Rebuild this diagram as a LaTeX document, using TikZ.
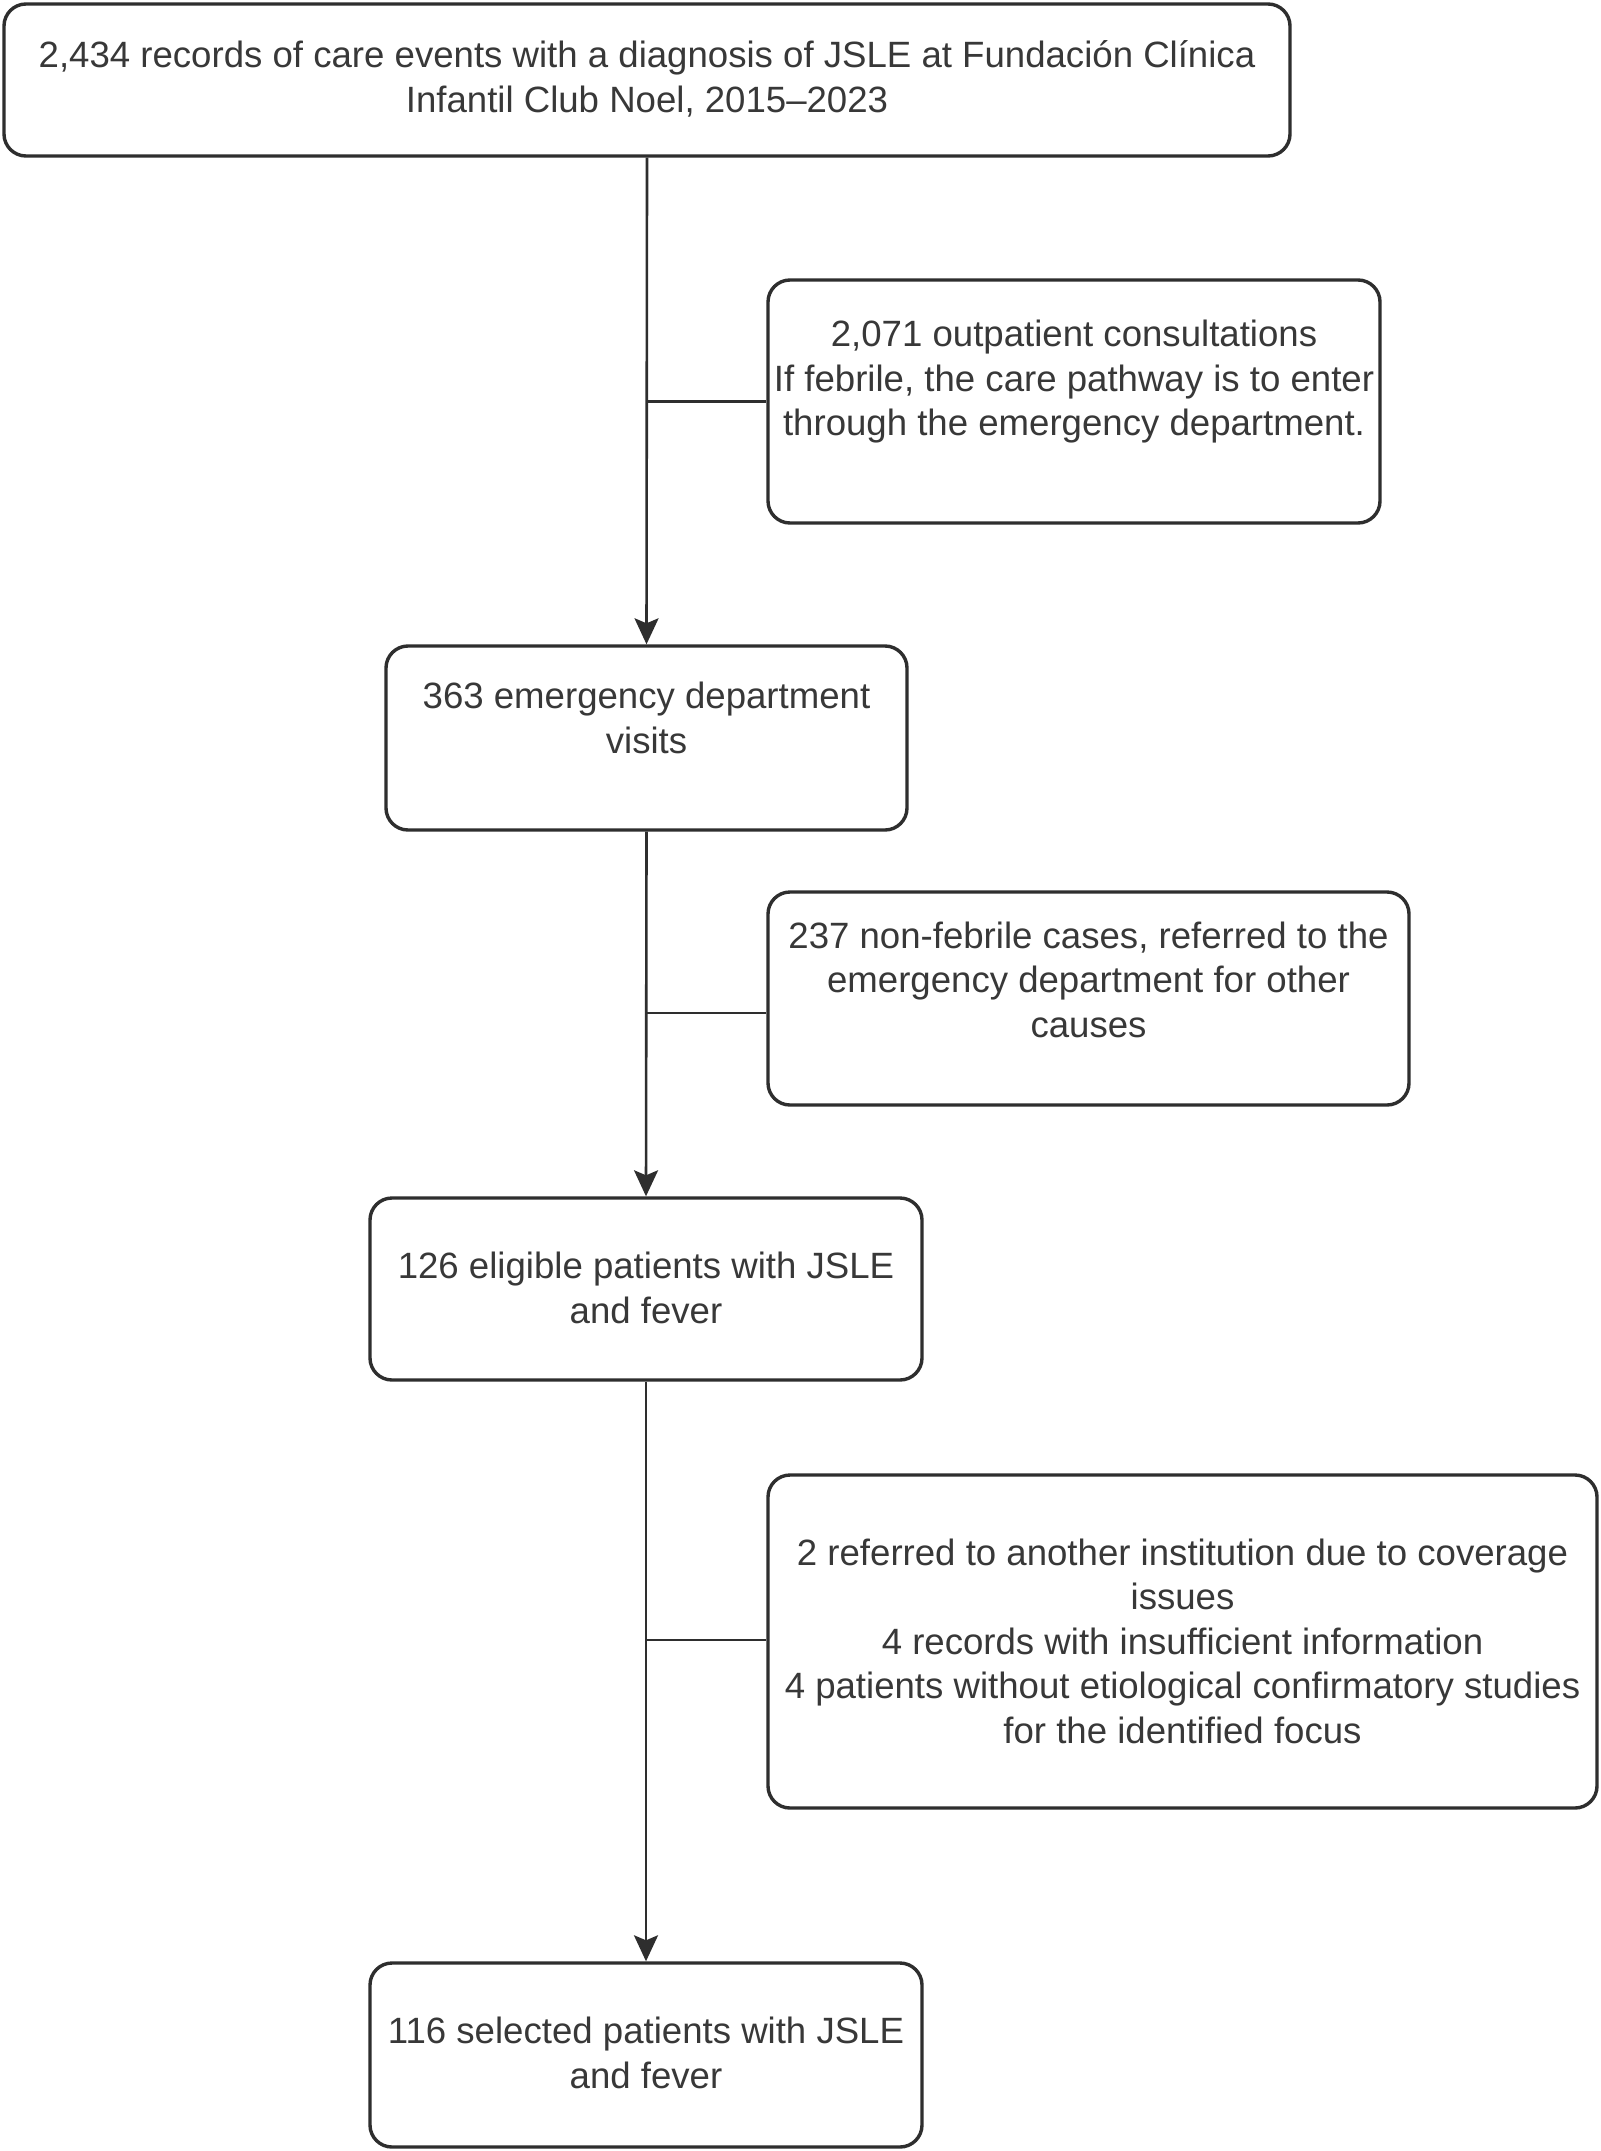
\documentclass[tikz,border=0pt]{standalone}
\usepackage{fontspec}
\setmainfont{Liberation Sans}
\usetikzlibrary{arrows.meta}
\definecolor{ink}{HTML}{2E2E2E}
\definecolor{txt}{HTML}{383838}
\tikzset{
  box/.style={draw=ink, line width=3.4pt, rounded corners=22pt, inner sep=0pt, anchor=center},
  lbl/.style={text=txt, align=center, inner sep=0pt, font=\fontsize{36.6}{44.5}\selectfont},
  conn/.style={draw=ink, line width=2.6pt},
  arrow/.style={conn, -{Stealth[length=26pt, width=24pt, inset=5pt]}}
}
\begin{document}
\begin{tikzpicture}[x=1pt, y=-1pt]
\useasboundingbox (0,0) rectangle (1600,2151);
\fill[white] (0,0) rectangle (1600,2151);

% boxes
\node[box, minimum width=1286pt, minimum height=152pt] (b1) at (647,80) {};
\node[box, minimum width=612pt, minimum height=243pt] (b2) at (1074,401.5) {};
\node[box, minimum width=521pt, minimum height=184pt] (b3) at (646.5,738) {};
\node[box, minimum width=641pt, minimum height=213pt] (b4) at (1088.5,998.5) {};
\node[box, minimum width=552pt, minimum height=182pt] (b5) at (646,1289) {};
\node[box, minimum width=829pt, minimum height=333pt] (b6) at (1182.5,1641.5) {};
\node[box, minimum width=552pt, minimum height=184pt] (b7) at (646,2055) {};

% texts
\node[lbl] (t1) at (647,79) {2,434 records of care events with a diagnosis of JSLE at Fundación Clínica\\Infantil Club Noel, 2015--2023};
\node[lbl] (t2) at (1074,382) {2,071 outpatient consultations\\If febrile, the care pathway is to enter\\through the emergency department.};
\node[lbl] (t3) at (646.5,718) {363 emergency department\\visits};
\node[lbl] (t4) at (1088.5,979.6) {237 non-febrile cases, referred to the\\emergency department for other\\causes};
\node[lbl] (t5) at (646,1288) {126 eligible patients with JSLE\\and fever};
\node[lbl] (t6) at (1182.5,1641) {2 referred to another institution due to coverage\\issues\\4 records with insufficient information\\4 patients without etiological confirmatory studies\\for the identified focus};
\node[lbl] (t7) at (646,2053) {116 selected patients with JSLE\\and fever};

% branch points
\coordinate (j1) at (b1.south |- b2.west);
\coordinate (j2) at (645,1013);
\coordinate (j3) at (645,1640);
\coordinate (k2) at (b4.west |- j2);
\coordinate (k3) at (b6.west |- j3);

% connectors
\draw[arrow] (b1.south) -- (b3.north);
\draw[conn] (j1) -- (b2.west);
\draw[arrow] (b3.south) -- (b5.north);
\draw[conn] (j2) -- (k2);
\draw[arrow] (b5.south) -- (b7.north);
\draw[conn] (j3) -- (k3);
\end{tikzpicture}
\end{document}
